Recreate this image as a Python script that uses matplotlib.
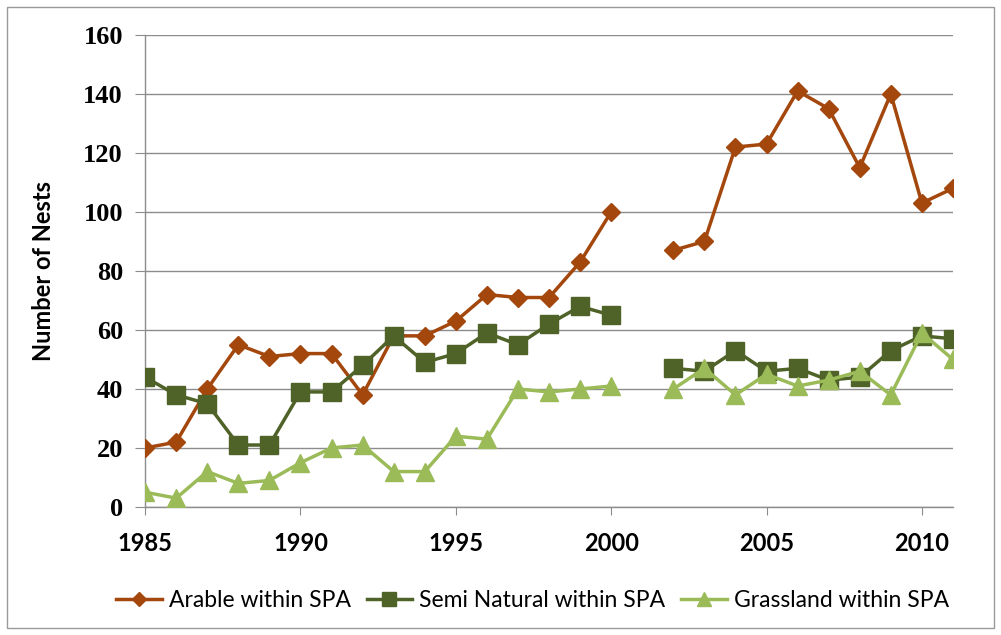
import numpy as np
import matplotlib
matplotlib.use("Agg")
import matplotlib.pyplot as plt
from matplotlib.patches import Rectangle

years = list(range(1985, 2012))
nan = np.nan
arable = [20, 22, 40, 55, 51, 52, 52, 38, 58, 58, 63, 72, 71, 71, 83, 100,
          nan, 87, 90, 122, 123, 141, 135, 115, 140, 103, 108]
semi_natural = [44, 38, 35, 21, 21, 39, 39, 48, 58, 49, 52, 59, 55, 62, 68, 65,
                nan, 47, 46, 53, 46, 47, 43, 44, 53, 58, 57]
grassland = [5, 3, 12, 8, 9, 15, 20, 21, 12, 12, 24, 23, 40, 39, 40, 41,
             nan, 40, 47, 38, 45, 41, 43, 46, 38, 59, 50]
labels = ["Arable within SPA", "Semi Natural within SPA", "Grassland within SPA"]
y_ticks = [0, 20, 40, 60, 80, 100, 120, 140, 160]
x_ticks = [1985, 1990, 1995, 2000, 2005, 2010]

plt.rcParams['font.family'] = ['Lato', 'DejaVu Sans']

fig = plt.figure(figsize=(10.01, 6.35), dpi=100)
ax = fig.add_axes([0.145, 0.2016, 0.807, 0.7434])

fig.patches.append(Rectangle((0.007, 0.011), 0.986, 0.978, transform=fig.transFigure,
                             fill=False, edgecolor='#9a9a9a', linewidth=1.0))

c_ar = '#A3470D'
c_sn = '#4F6228'
c_gr = '#9BBB59'

ax.plot(years, arable, color=c_ar, lw=2.5, marker='D', ms=9.5, mec=c_ar, mfc=c_ar,
        label=labels[0], zorder=3)
ax.plot(years, semi_natural, color=c_sn, lw=2.5, marker='s', ms=13, mec=c_sn, mfc=c_sn,
        label=labels[1], zorder=3)
ax.plot(years, grassland, color=c_gr, lw=2.5, marker='^', ms=12.5, mec=c_gr, mfc=c_gr,
        label=labels[2], zorder=4)

ax.set_xlim(1985, 2011)
ax.set_ylim(0, 160)
ax.set_yticks(y_ticks)
ax.set_xticks(x_ticks)
ax.yaxis.grid(True, color='#8c8c8c', lw=1.0)
ax.set_axisbelow(True)
for s in ['top', 'right']:
    ax.spines[s].set_visible(False)
for s in ['left', 'bottom']:
    ax.spines[s].set_color('#8c8c8c')
    ax.spines[s].set_linewidth(1.0)
ax.tick_params(axis='y', length=7, color='#8c8c8c', pad=9)
ax.tick_params(axis='x', length=6, color='#8c8c8c', pad=12)
for t in ax.get_yticklabels():
    t.set_family(['Liberation Serif', 'DejaVu Serif'])
    t.set_fontweight('bold')
    t.set_fontsize(19)
for t in ax.get_xticklabels():
    t.set_fontweight('bold')
    t.set_fontsize(17)
ax.set_ylabel("Number of Nests", fontsize=17, fontweight='bold')
ax.yaxis.set_label_coords(-0.112, 0.5)

leg = fig.legend(loc='center', bbox_to_anchor=(0.532, 0.055), ncol=3, frameon=False,
                 fontsize=16.5, handlelength=2.0, columnspacing=0.7, handletextpad=0.3,
                 markerscale=0.75)

fig.savefig('out.png', dpi=100)
